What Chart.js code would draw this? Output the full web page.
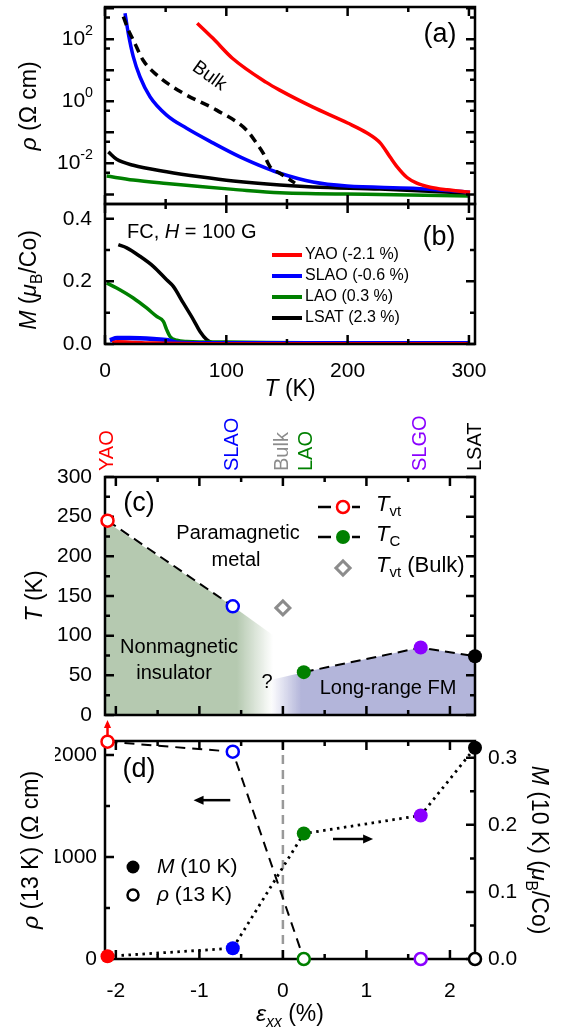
<!DOCTYPE html>
<html>
<head>
<meta charset="utf-8">
<title>Strain phase diagram</title>
<script src="https://cdn.jsdelivr.net/npm/chart.js"></script>
<style>
  html, body { margin: 0; padding: 0; background: #fff; }
  #wrap { position: relative; width: 561px; height: 1032px; }
  #wrap canvas { position: absolute; left: 0; top: 0; }
</style>
</head>
<body>
<div id="wrap">
  <canvas id="ca" width="561" height="1032"></canvas>
  <canvas id="cb" width="561" height="1032"></canvas>
  <canvas id="cc" width="561" height="1032"></canvas>
  <canvas id="cd" width="561" height="1032"></canvas>
</div>
<script>
// ---- (a) resistivity vs temperature (Ohm cm) ----
const yaoT = [76, 89, 105, 133, 144, 171, 200, 216, 227, 235, 241, 249, 257, 268, 282, 301];
const yaoRho = [331, 107, 24.5, 4.07, 2.29, 0.66, 0.2, 0.095, 0.045, 0.016, 0.0076, 0.0035, 0.0023, 0.0017, 0.0014, 0.00117];
const slaoT = [16.5, 19.2, 23.3, 28.8, 37.1, 50.8, 67.3, 89.3, 111.3, 133.3, 144.2, 171.4, 199.5, 253.8, 300.8];
const slaoRho = [692, 155, 27.5, 6.2, 1.41, 0.36, 0.135, 0.045, 0.0162, 0.0069, 0.0048, 0.0025, 0.00186, 0.00158, 0.00117];
const bulkT = [15.1, 19.2, 23.3, 31.3, 42.6, 64.5, 92, 116.8, 125, 130.5, 136, 144.2, 156.6];
const bulkRho = [537, 200, 95, 21.4, 7.1, 1.82, 0.52, 0.117, 0.044, 0.021, 0.0078, 0.0048, 0.0023];
const lsatT = [2.7, 9.6, 23.3, 50.8, 78.3, 105.8, 144.2, 171.4, 226.6, 300];
const lsatRho = [0.0234, 0.0135, 0.0087, 0.0054, 0.0037, 0.0027, 0.002, 0.00174, 0.00148, 0.0011];
const laoT = [1.4, 23.3, 50.8, 78.3, 105.8, 144.2, 226.6, 300];
const laoRho = [0.0039, 0.0029, 0.00224, 0.00178, 0.00145, 0.00112, 0.001, 0.00089];
const rhoTickExp = [-2, 0, 2];

// ---- (b) magnetization, FC 100 G (muB/Co) ----
const mYaoT = [6, 10, 25, 40, 80, 200, 300];
const mYaoM = [0.004, 0.007, 0.005, 0.003, 0.001, 0.001, 0.001];
const mSlaoT = [4, 10, 20, 40, 52, 60, 100, 200, 300];
const mSlaoM = [0.012, 0.019, 0.019, 0.016, 0.012, 0.004, 0.002, 0.002, 0.002];
const mLaoT = [1.4, 9.6, 23.3, 34.3, 42.6, 48.1, 50.8, 53.6, 59.1, 67.3, 100, 200, 300];
const mLaoM = [0.195, 0.179, 0.147, 0.115, 0.088, 0.072, 0.046, 0.024, 0.012, 0.008, 0.006, 0.003, 0.002];
const mLsatT = [11, 17.9, 28.8, 39.8, 50.8, 56.3, 64.5, 72.8, 78.3, 83.8, 89.3, 120, 200, 300];
const mLsatM = [0.317, 0.307, 0.28, 0.248, 0.205, 0.184, 0.131, 0.078, 0.04, 0.014, 0.003, 0.002, 0.002, 0.002];
const legendNames = ['YAO (-2.1 %)', 'SLAO (-0.6 %)', 'LAO (0.3 %)', 'LSAT (2.3 %)'];

// ---- (c), (d) vs substrate strain ----
const subs = ['YAO', 'SLAO', 'LAO', 'SLGO', 'LSAT'];
const strain = [-2.1, -0.6, 0.25, 1.65, 2.3];
const tvt = [245, 137, null, null, null];
const tc = [null, null, 54, 85, 74];
const bulkStrain = [0];
const bulkTvt = [135];
const topLabels = ['YAO', 'SLAO', 'Bulk', 'LAO', 'SLGO', 'LSAT'];
const topStrain = [-2.1, -0.6, 0, 0.28, 1.65, 2.3];
const insulatorEdge = [[-2.13, 245], [-0.6, 137], [0.05, 88]];
const fmEdge = [[-0.2, 43], [0.25, 54], [1.65, 85], [2.3, 74]];
const rho13 = [2130, 2032, 0, 0, 0];
const m10 = [0.004, 0.016, 0.187, 0.214, 0.315];

const FAMILY = '"Liberation Sans", Arial, Helvetica, sans-serif';
const RED = '#ff0000', BLUE = '#0000ff', GREEN = '#008000', PURPLE = '#8a00ff', BLACK = '#000000', GRAY = '#8c8c8c';
const subColors = [RED, BLUE, GREEN, PURPLE, BLACK];
const topColors = [RED, BLUE, GRAY, GREEN, PURPLE, BLACK];

Chart.defaults.font.family = FAMILY;
Chart.defaults.font.size = 21;
Chart.defaults.color = '#000';

function pts(xs, ys) { return xs.map((x, i) => ({ x: x, y: ys[i] })); }

function curve(xs, ys, color, extra) {
  return Object.assign({
    data: pts(xs, ys), showLine: true, borderColor: color, borderWidth: 3.5,
    pointRadius: 0, cubicInterpolationMode: 'monotone', order: 2
  }, extra || {});
}

function fixSize(n) { return function (s) { if (s.isHorizontal()) s.height = n; else s.width = n; }; }
function setTicks(vals) { return function (s) { s.ticks = vals.map(v => ({ value: v })); }; }

// text with italic / sub / superscript parts: [text, flags] flags: i italic, _ sub, ^ sup
function rich(ctx, parts, x, y, size, align, rot, color) {
  ctx.save();
  ctx.translate(x, y);
  if (rot) ctx.rotate(rot);
  ctx.fillStyle = color || '#000';
  ctx.textBaseline = 'middle';
  ctx.textAlign = 'left';
  const segs = parts.map(function (p) {
    const f = p[1] || '';
    const small = f.indexOf('_') >= 0 || f.indexOf('^') >= 0;
    const font = (f.indexOf('i') >= 0 ? 'italic ' : '') + (small ? size * 0.68 : size) + 'px ' + FAMILY;
    ctx.font = font;
    return {
      t: p[0], font: font, w: ctx.measureText(p[0]).width,
      dy: f.indexOf('_') >= 0 ? size * 0.32 : (f.indexOf('^') >= 0 ? -size * 0.4 : 0)
    };
  });
  const total = segs.reduce((a, s) => a + s.w, 0);
  let cx = align === 'center' ? -total / 2 : (align === 'right' ? -total : 0);
  segs.forEach(s => { ctx.font = s.font; ctx.fillText(s.t, cx, s.dy); cx += s.w; });
  ctx.restore();
}

function arrow(ctx, x1, y1, x2, y2, color, w, head) {
  const ang = Math.atan2(y2 - y1, x2 - x1), c = Math.cos(ang), s = Math.sin(ang);
  ctx.save();
  ctx.strokeStyle = color; ctx.fillStyle = color; ctx.lineWidth = w;
  ctx.beginPath(); ctx.moveTo(x1, y1); ctx.lineTo(x2 - c * head * 0.8, y2 - s * head * 0.8); ctx.stroke();
  ctx.beginPath(); ctx.moveTo(x2, y2);
  ctx.lineTo(x2 - head * c + head * 0.45 * s, y2 - head * s - head * 0.45 * c);
  ctx.lineTo(x2 - head * c - head * 0.45 * s, y2 - head * s + head * 0.45 * c);
  ctx.closePath(); ctx.fill();
  ctx.restore();
}

function dot(ctx, x, y, r, fill, stroke, w) {
  ctx.save();
  ctx.beginPath(); ctx.arc(x, y, r, 0, Math.PI * 2);
  ctx.fillStyle = fill; ctx.fill();
  if (stroke) { ctx.strokeStyle = stroke; ctx.lineWidth = w; ctx.stroke(); }
  ctx.restore();
}

// box around the plot area with inward ticks; drawn below marker datasets
function framePlugin(spec) {
  let done = false;
  function draw(chart) {
    const ctx = chart.ctx, a = chart.chartArea;
    ctx.save();
    ctx.strokeStyle = '#000'; ctx.lineWidth = 2.5;
    ctx.strokeRect(a.left, a.top, a.right - a.left, a.bottom - a.top);
    ctx.beginPath();
    spec.forEach(t => {
      const s = chart.scales[t.axis];
      const all = t.major.map(v => [v, 9]).concat(t.minor.map(v => [v, 5]));
      all.forEach(([v, len]) => {
        const p = s.getPixelForValue(v);
        t.sides.forEach(side => {
          if (side === 'bottom') { ctx.moveTo(p, a.bottom); ctx.lineTo(p, a.bottom - len); }
          if (side === 'top') { ctx.moveTo(p, a.top); ctx.lineTo(p, a.top + len); }
          if (side === 'left') { ctx.moveTo(a.left, p); ctx.lineTo(a.left + len, p); }
          if (side === 'right') { ctx.moveTo(a.right, p); ctx.lineTo(a.right - len, p); }
        });
      });
    });
    ctx.stroke();
    ctx.restore();
  }
  return {
    id: 'frame',
    beforeDatasetsDraw() { done = false; },
    beforeDatasetDraw(chart, args) {
      if (!done && chart.data.datasets[args.index].marker) { draw(chart); done = true; }
    },
    afterDatasetsDraw(chart) { if (!done) { draw(chart); done = true; } }
  };
}

const base = {
  responsive: false, animation: false, events: [],
  plugins: { legend: { display: false }, tooltip: { enabled: false } }
};
function opts(padding, scales) {
  return Object.assign({}, base, { layout: { padding: padding }, scales: scales });
}
function yTicks(pad, fmt) {
  return { padding: pad, autoSkip: false, callback: fmt || (v => String(v)) };
}
const hidden = { display: false, drawTicks: false, tickLength: 0 };

// ================= (a) =================
const decades = [-3, -2, -1, 0, 1, 2, 3];
new Chart(document.getElementById('ca'), {
  type: 'scatter',
  data: {
    datasets: [
      curve(bulkT, bulkRho, BLACK, { borderDash: [9, 6] }),
      curve(yaoT, yaoRho, RED),
      curve(slaoT, slaoRho, BLUE),
      curve(lsatT, lsatRho, BLACK),
      curve(laoT, laoRho, GREEN)
    ]
  },
  options: opts({ left: 105, right: 86, top: 7, bottom: 828 }, {
    x: { type: 'linear', display: false, min: 0, max: 305 },
    y: { type: 'logarithmic', display: false, min: Math.pow(10, -3.31), max: Math.pow(10, 3.04) }
  }),
  plugins: [
    framePlugin([
      { axis: 'x', sides: ['top', 'bottom'], major: [0, 100, 200, 300], minor: [50, 150, 250] },
      { axis: 'y', sides: ['left', 'right'], major: decades.map(e => Math.pow(10, e)),
        minor: [-3, -2, -1, 0, 1, 2].map(e => 5 * Math.pow(10, e)) }
    ]),
    {
      id: 'textA',
      afterDraw(chart) {
        const ctx = chart.ctx, y = chart.scales.y, x = chart.scales.x;
        rhoTickExp.forEach(e => rich(ctx, [['10'], [String(e), '^']], 93, y.getPixelForValue(Math.pow(10, e)), 21, 'right'));
        rich(ctx, [['ρ', 'i'], [' (Ω cm)']], 30, 106, 23, 'center', -Math.PI / 2);
        rich(ctx, [['(a)']], 440, 35, 27, 'center');
        rich(ctx, [['Bulk']], x.getPixelForValue(86), y.getPixelForValue(6.5), 19, 'center', 36 * Math.PI / 180);
      }
    }
  ]
});

// ================= (b) =================
new Chart(document.getElementById('cb'), {
  type: 'scatter',
  data: {
    datasets: [
      curve(mYaoT, mYaoM, RED),
      curve(mSlaoT, mSlaoM, BLUE, { borderWidth: 4.5 }),
      curve(mLaoT, mLaoM, GREEN),
      curve(mLsatT, mLsatM, BLACK)
    ]
  },
  options: opts({ left: 55, right: 86, top: 204, bottom: 638 }, {
    x: { type: 'linear', min: 0, max: 305, grid: hidden, border: { display: false },
      afterFit: fixSize(50), afterBuildTicks: setTicks([0, 100, 200, 300]),
      ticks: { padding: 15, autoSkip: false, maxRotation: 0 } },
    y: { type: 'linear', min: 0, max: 0.447, grid: hidden, border: { display: false },
      afterFit: fixSize(50), afterBuildTicks: setTicks([0, 0.2, 0.4]),
      ticks: yTicks(13, v => v.toFixed(1)) }
  }),
  plugins: [
    framePlugin([
      { axis: 'x', sides: ['top', 'bottom'], major: [0, 100, 200, 300], minor: [50, 150, 250] },
      { axis: 'y', sides: ['left', 'right'], major: [0, 0.2, 0.4], minor: [0.1, 0.3] }
    ]),
    {
      id: 'textB',
      afterDraw(chart) {
        const ctx = chart.ctx;
        rich(ctx, [['M', 'i'], [' ('], ['μ', 'i'], ['B', '_'], ['/Co)']], 30, 280, 23, 'center', -Math.PI / 2);
        rich(ctx, [['T', 'i'], [' (K)']], 290, 390, 23, 'center');
        rich(ctx, [['(b)']], 439, 238, 27, 'center');
        rich(ctx, [['FC, '], ['H', 'i'], [' = 100 G']], 127, 232, 20, 'left');
        const cols = [RED, BLUE, GREEN, BLACK];
        legendNames.forEach((n, i) => {
          const yy = 255 + 21 * i;
          ctx.save(); ctx.strokeStyle = cols[i]; ctx.lineWidth = 4;
          ctx.beginPath(); ctx.moveTo(272, yy); ctx.lineTo(302, yy); ctx.stroke(); ctx.restore();
          rich(ctx, [[n]], 305, yy, 16, 'left');
        });
      }
    }
  ]
});

// ================= (c) =================
function fadeFill(rgb, solidAt, clearAt) {
  return function (c) {
    const ch = c.chart;
    if (!ch.chartArea) return 'rgba(' + rgb + ',1)';
    const xs = ch.scales.x;
    const g = ch.ctx.createLinearGradient(xs.getPixelForValue(solidAt), 0, xs.getPixelForValue(clearAt), 0);
    g.addColorStop(0, 'rgba(' + rgb + ',1)');
    g.addColorStop(1, 'rgba(' + rgb + ',0)');
    return g;
  };
}
const strainTicks = { axis: 'x', sides: ['top', 'bottom'], major: [-2, -1, 0, 1, 2], minor: [-1.5, -0.5, 0.5, 1.5] };

new Chart(document.getElementById('cc'), {
  type: 'scatter',
  data: {
    datasets: [
      { data: pts(strain, tvt), marker: true, order: 0, clip: false, pointStyle: 'circle', pointRadius: 6,
        pointBorderWidth: 2.5, pointBackgroundColor: '#fff', pointBorderColor: subColors },
      { data: pts(strain, tc), marker: true, order: 0, clip: false, pointStyle: 'circle', pointRadius: 7,
        pointBorderWidth: 0, pointBackgroundColor: subColors, pointBorderColor: subColors },
      { data: pts(bulkStrain, bulkTvt), marker: true, order: 0, clip: false, pointStyle: 'rectRot', pointRadius: 7,
        pointBorderWidth: 3, pointBackgroundColor: '#fff', pointBorderColor: GRAY },
      { data: pts(strain, tvt), showLine: true, pointRadius: 0, borderColor: BLACK, borderWidth: 2,
        borderDash: [10, 6], order: 1 },
      { data: pts(strain, tc), showLine: true, pointRadius: 0, borderColor: BLACK, borderWidth: 2,
        borderDash: [10, 6], order: 1 },
      { data: insulatorEdge.map(p => ({ x: p[0], y: p[1] })), showLine: true, pointRadius: 0, borderWidth: 0,
        borderColor: 'rgba(0,0,0,0)', fill: 'origin', backgroundColor: fadeFill('181,201,176', -0.55, -0.12), order: 3 },
      { data: fmEdge.map(p => ({ x: p[0], y: p[1] })), showLine: true, pointRadius: 0, borderWidth: 0,
        borderColor: 'rgba(0,0,0,0)', fill: 'origin', backgroundColor: fadeFill('179,181,218', 0.22, -0.15), order: 3 }
    ]
  },
  options: opts({ left: 55, right: 86, top: 477, bottom: 317 }, {
    x: { type: 'linear', display: false, min: -2.13, max: 2.3 },
    y: { type: 'linear', min: 0, max: 300, grid: hidden, border: { display: false },
      afterFit: fixSize(50), afterBuildTicks: setTicks([0, 50, 100, 150, 200, 250, 300]),
      ticks: yTicks(13) }
  }),
  plugins: [
    framePlugin([
      strainTicks,
      { axis: 'y', sides: ['left', 'right'], major: [0, 50, 100, 150, 200, 250, 300],
        minor: [25, 75, 125, 175, 225, 275] }
    ]),
    {
      id: 'textC',
      afterDraw(chart) {
        const ctx = chart.ctx, x = chart.scales.x;
        topLabels.forEach((n, i) => rich(ctx, [[n]], x.getPixelForValue(topStrain[i]), 471, 20, 'left', -Math.PI / 2, topColors[i]));
        rich(ctx, [['T', 'i'], [' (K)']], 36, 596, 23, 'center', -Math.PI / 2);
        rich(ctx, [['(c)']], 139, 504, 27, 'center');
        rich(ctx, [['Paramagnetic']], 238, 533, 20, 'center');
        rich(ctx, [['metal']], 236, 560, 20, 'center');
        rich(ctx, [['Nonmagnetic']], 179, 647, 20, 'center');
        rich(ctx, [['insulator']], 174, 673, 20, 'center');
        rich(ctx, [['?']], 267, 682, 20, 'center');
        rich(ctx, [['Long-range FM']], 388, 688, 20, 'center');
        // legend
        ctx.save(); ctx.strokeStyle = BLACK; ctx.lineWidth = 2.5; ctx.beginPath();
        [507, 537].forEach(yy => { ctx.moveTo(318, yy); ctx.lineTo(331, yy); ctx.moveTo(352, yy); ctx.lineTo(360, yy); });
        ctx.stroke(); ctx.restore();
        dot(ctx, 343, 507, 6, '#fff', RED, 2.5);
        dot(ctx, 343, 537, 7, GREEN);
        ctx.save(); ctx.translate(343, 568); ctx.rotate(Math.PI / 4);
        ctx.strokeStyle = GRAY; ctx.lineWidth = 3; ctx.strokeRect(-5, -5, 10, 10); ctx.restore();
        rich(ctx, [['T', 'i'], ['vt', '_']], 376, 505, 22, 'left');
        rich(ctx, [['T', 'i'], ['C', '_']], 376, 535, 22, 'left');
        rich(ctx, [['T', 'i'], ['vt', '_'], [' (Bulk)']], 376, 566, 22, 'left');
      }
    }
  ]
});

// ================= (d) =================
new Chart(document.getElementById('cd'), {
  type: 'scatter',
  data: {
    datasets: [
      { data: pts(strain, rho13), yAxisID: 'y', marker: true, order: 0, clip: false, pointStyle: 'circle',
        pointRadius: 6, pointBorderWidth: 2.5, pointBackgroundColor: '#fff', pointBorderColor: subColors },
      { data: pts(strain, m10), yAxisID: 'y2', marker: true, order: 0, clip: false, pointStyle: 'circle',
        pointRadius: 7, pointBorderWidth: 0, pointBackgroundColor: subColors, pointBorderColor: subColors },
      { data: pts(strain, rho13), yAxisID: 'y', showLine: true, pointRadius: 0, borderColor: BLACK,
        borderWidth: 2, borderDash: [10, 7], order: 1, clip: false },
      { data: pts(strain, m10), yAxisID: 'y2', showLine: true, pointRadius: 0, borderColor: BLACK,
        borderWidth: 2.8, borderDash: [2.5, 4.5], order: 1 },
      { data: [{ x: 0, y: 0 }, { x: 0, y: 2137 }], yAxisID: 'y', showLine: true, pointRadius: 0,
        borderColor: '#999', borderWidth: 2.5, borderDash: [9, 6], order: 2 }
    ]
  },
  options: opts({ left: 55, right: 36, top: 741, bottom: 23 }, {
    x: { type: 'linear', min: -2.13, max: 2.3, grid: hidden, border: { display: false },
      afterFit: fixSize(50), afterBuildTicks: setTicks([-2, -1, 0, 1, 2]),
      ticks: { padding: 20, autoSkip: false, maxRotation: 0 } },
    y: { type: 'linear', position: 'left', min: 0, max: 2137, grid: hidden, border: { display: false },
      afterFit: fixSize(50), afterBuildTicks: setTicks([0, 1000, 2000]), ticks: yTicks(8) },
    y2: { type: 'linear', position: 'right', min: 0, max: 0.325, grid: hidden, border: { display: false },
      afterFit: fixSize(50), afterBuildTicks: setTicks([0, 0.1, 0.2, 0.3]),
      ticks: yTicks(13, v => v.toFixed(1)) }
  }),
  plugins: [
    framePlugin([
      strainTicks,
      { axis: 'y', sides: ['left'], major: [0, 1000, 2000], minor: [500, 1500] },
      { axis: 'y2', sides: ['right'], major: [0, 0.1, 0.2, 0.3], minor: [0.05, 0.15, 0.25] }
    ]),
    {
      id: 'textD',
      afterDraw(chart) {
        const ctx = chart.ctx, x = chart.scales.x, y = chart.scales.y, y2 = chart.scales.y2, a = chart.chartArea;
        rich(ctx, [['ρ', 'i'], [' (13 K) (Ω cm)']], 32, 850, 23, 'center', -Math.PI / 2);
        rich(ctx, [['M', 'i'], [' (10 K) ('], ['μ', 'i'], ['B', '_'], ['/Co)']], 538, 850, 23, 'center', Math.PI / 2);
        rich(ctx, [['ε', 'i'], ['xx', 'i_'], [' (%)']], 290, 1015, 23, 'center');
        rich(ctx, [['(d)']], 139, 770, 27, 'center');
        dot(ctx, 133, 867, 6.5, BLACK);
        dot(ctx, 133, 895, 5.5, '#fff', BLACK, 2.5);
        rich(ctx, [['M', 'i'], [' (10 K)']], 157, 867, 21, 'left');
        rich(ctx, [['ρ', 'i'], [' (13 K)']], 157, 895, 21, 'left');
        // arrows pointing to the axis each series uses
        arrow(ctx, x.getPixelForValue(-0.63), y.getPixelForValue(1557), x.getPixelForValue(-1.07), y.getPixelForValue(1557), BLACK, 2.5, 10);
        arrow(ctx, x.getPixelForValue(0.6), y2.getPixelForValue(0.179), x.getPixelForValue(1.08), y2.getPixelForValue(0.179), BLACK, 2.5, 10);
        // YAO resistivity is off scale
        const px = x.getPixelForValue(strain[0]);
        arrow(ctx, px, y.getPixelForValue(rho13[0]) - 6, px, a.top - 21, RED, 2.5, 8);
      }
    }
  ]
});
</script>
</body>
</html>
